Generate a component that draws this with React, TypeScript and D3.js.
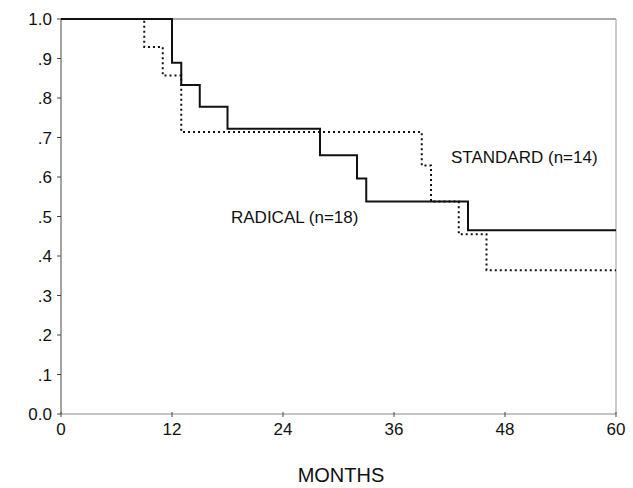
import React, { useEffect, useRef } from "react";
import * as d3 from "d3";

// Kaplan-Meier steps (months, survival proportion)
const radicalMonths = [0, 12, 13, 15, 18, 28, 32, 33, 44, 60];
const radicalSurv = [1.0, 0.889, 0.833, 0.778, 0.722, 0.655, 0.596, 0.538, 0.465, 0.465];

const standardMonths = [0, 9, 11, 13, 39, 40, 43, 46, 60];
const standardSurv = [1.0, 0.929, 0.857, 0.714, 0.629, 0.538, 0.455, 0.364, 0.364];

const xTicks = [0, 12, 24, 36, 48, 60];
const yTicks = [0, 0.1, 0.2, 0.3, 0.4, 0.5, 0.6, 0.7, 0.8, 0.9, 1.0];
const yTickLabels = ["0.0", ".1", ".2", ".3", ".4", ".5", ".6", ".7", ".8", ".9", "1.0"];

const seriesLabels = ["RADICAL (n=18)", "STANDARD (n=14)"];
const xTitle = "MONTHS";

const App = () => {
  const ref = useRef<SVGSVGElement>(null);

  useEffect(() => {
    const width = 633;
    const height = 488;
    const font = "'Liberation Sans', Arial, sans-serif";

    const svg = d3.select(ref.current)
      .attr("width", width)
      .attr("height", height);
    svg.selectAll("*").remove();

    const x = d3.scaleLinear().domain([0, 60]).range([61, 616]);
    const y = d3.scaleLinear().domain([0, 1]).range([414, 19]);

    // frame
    svg.append("line")
      .attr("x1", x(0)).attr("x2", x(60))
      .attr("y1", y(1)).attr("y2", y(1))
      .attr("stroke", "#555").attr("stroke-width", 1);
    svg.append("line")
      .attr("x1", x(60)).attr("x2", x(60))
      .attr("y1", y(1)).attr("y2", y(0))
      .attr("stroke", "#999").attr("stroke-width", 1);

    // y axis
    const yAxis = svg.append("g");
    yAxis.append("line")
      .attr("x1", x(0)).attr("x2", x(0))
      .attr("y1", y(1)).attr("y2", y(0))
      .attr("stroke", "#666").attr("stroke-width", 1.2);
    yTicks.forEach((t, i) => {
      yAxis.append("line")
        .attr("x1", x(0) - 4).attr("x2", x(0))
        .attr("y1", y(t)).attr("y2", y(t))
        .attr("stroke", "#444");
      yAxis.append("text")
        .attr("x", x(0) - 9)
        .attr("y", y(t))
        .attr("dy", "0.36em")
        .attr("text-anchor", "end")
        .attr("font-family", font)
        .attr("font-size", 17)
        .attr("fill", "#111")
        .text(yTickLabels[i]);
    });

    // x axis
    const xAxis = svg.append("g");
    xAxis.append("line")
      .attr("x1", x(0)).attr("x2", x(60))
      .attr("y1", y(0)).attr("y2", y(0))
      .attr("stroke", "#888").attr("stroke-width", 1);
    xTicks.forEach(t => {
      xAxis.append("line")
        .attr("x1", x(t)).attr("x2", x(t))
        .attr("y1", y(0) - 2).attr("y2", y(0) + 3)
        .attr("stroke", "#444");
      xAxis.append("text")
        .attr("x", x(t))
        .attr("y", 435)
        .attr("text-anchor", "middle")
        .attr("font-family", font)
        .attr("font-size", 17)
        .attr("fill", "#111")
        .text(t);
    });

    const line = d3.line<[number, number]>()
      .x(d => x(d[0]))
      .y(d => y(d[1]))
      .curve(d3.curveStepAfter);

    const standard = standardMonths.map((m, i) => [m, standardSurv[i]] as [number, number]);
    const radical = radicalMonths.map((m, i) => [m, radicalSurv[i]] as [number, number]);

    svg.append("path")
      .attr("d", line(standard))
      .attr("fill", "none")
      .attr("stroke", "#111")
      .attr("stroke-width", 2)
      .attr("stroke-dasharray", "2,3");

    svg.append("path")
      .attr("d", line(radical))
      .attr("fill", "none")
      .attr("stroke", "#111")
      .attr("stroke-width", 2);

    // labels
    svg.append("text")
      .attr("x", 231).attr("y", 223)
      .attr("font-family", font).attr("font-size", 17)
      .attr("fill", "#111")
      .text(seriesLabels[0]);
    svg.append("text")
      .attr("x", 451).attr("y", 163)
      .attr("font-family", font).attr("font-size", 17)
      .attr("fill", "#111")
      .text(seriesLabels[1]);

    svg.append("text")
      .attr("x", 341).attr("y", 482)
      .attr("text-anchor", "middle")
      .attr("font-family", font).attr("font-size", 20)
      .attr("fill", "#111")
      .text(xTitle);
  }, []);

  return (
    <svg
      ref={ref}
      style={{ position: "absolute", left: 0, top: 0, background: "#fff" }}
    />
  );
};

export default App;
